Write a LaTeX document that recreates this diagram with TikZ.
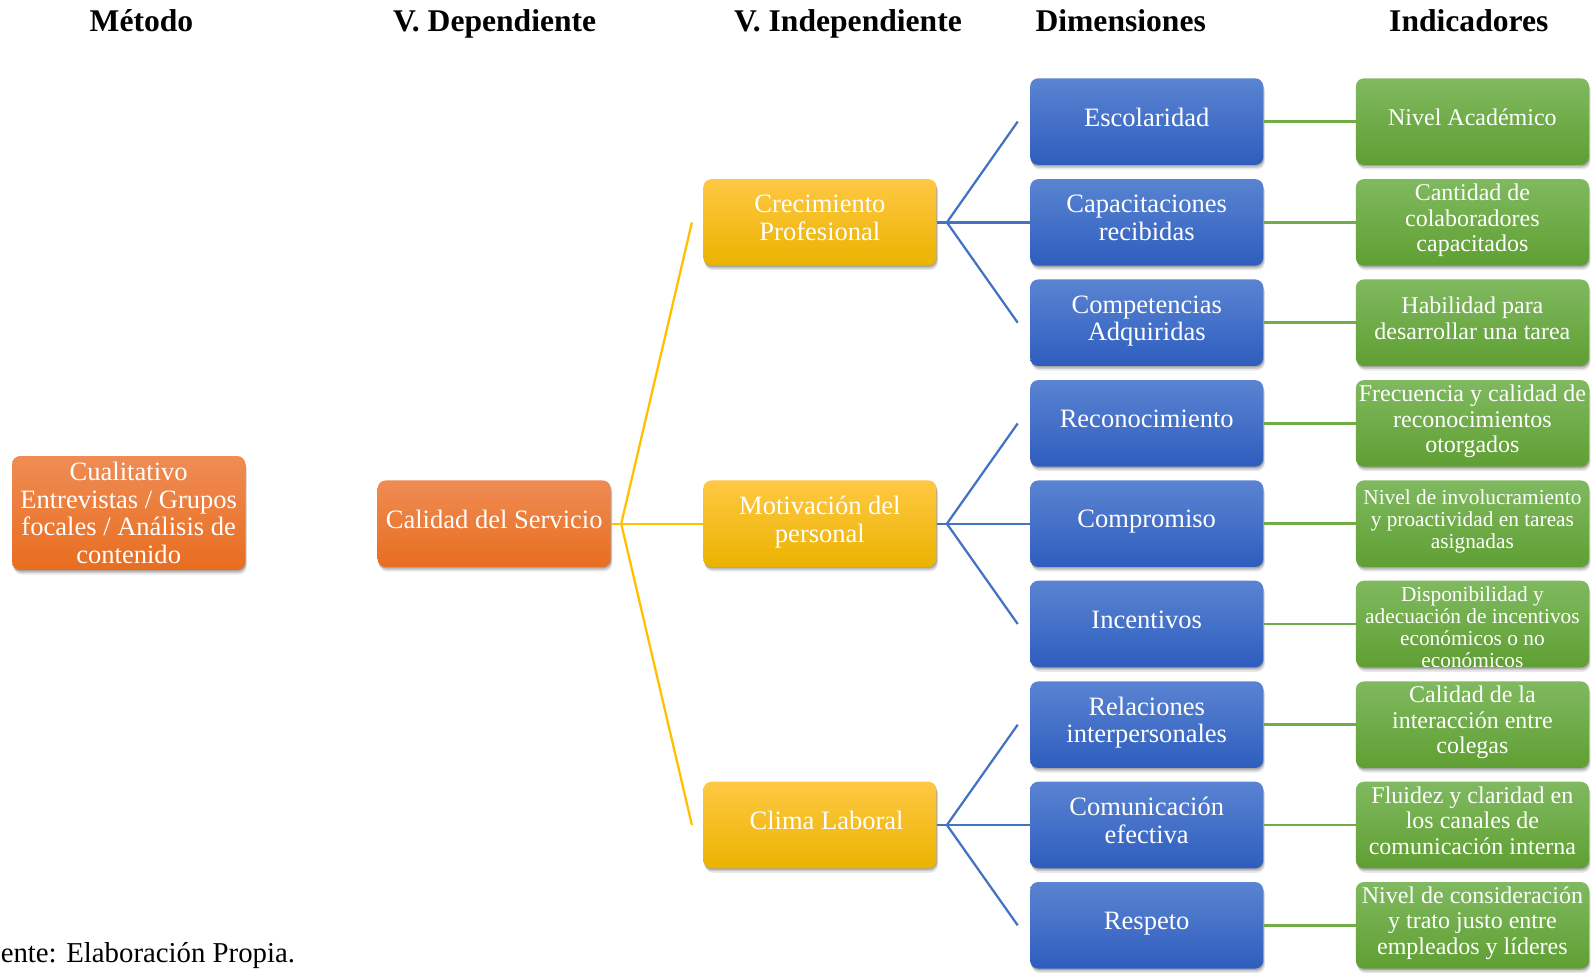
\documentclass[tikz,border=0pt]{standalone}
\usepackage{fontspec}
\setmainfont{Liberation Serif}
\usetikzlibrary{shadows}

% box fills (light top, dark bottom) and connector colours
\definecolor{orTop}{HTML}{EF8C54}
\definecolor{orBot}{HTML}{E86D20}
\definecolor{ylTop}{HTML}{FFC843}
\definecolor{ylBot}{HTML}{EBB300}
\definecolor{blTop}{HTML}{5A84D2}
\definecolor{blBot}{HTML}{2E5DBE}
\definecolor{grTop}{HTML}{80B960}
\definecolor{grBot}{HTML}{5F9F32}
\definecolor{ylLine}{HTML}{FFC000}
\definecolor{blLine}{HTML}{4472C4}
\definecolor{grLine}{HTML}{70AD47}

\newcommand\boxfont{\fontsize{19.9}{20.6}\selectfont}
\newcommand\indfont{\fontsize{18}{19.1}\selectfont}
\newcommand\smallind{\fontsize{16}{16.6}\selectfont}
\newcommand\headfont{\fontsize{23.7}{26}\selectfont\bfseries}
\newcommand\footfont{\fontsize{21.6}{24}\selectfont}

\tikzset{
  box/.style={rounded corners=6pt, minimum width=174.8pt, minimum height=64.9pt,
    inner sep=0pt, align=center, text=white, font=\boxfont,
    drop shadow={shadow xshift=0.4pt, shadow yshift=-1pt, opacity=0.18, fill=black},
    drop shadow={shadow xshift=0.8pt, shadow yshift=-2.2pt, opacity=0.13, fill=black},
    drop shadow={shadow xshift=1.2pt, shadow yshift=-3.4pt, opacity=0.09, fill=black}},
  lift/.style={execute at end node={\rule[-7pt]{0pt}{7pt}}},
  orangebox/.style={box, top color=orTop, bottom color=orBot},
  yellowbox/.style={box, lift, top color=ylTop, bottom color=ylBot},
  bluebox/.style={box, lift, top color=blTop, bottom color=blBot},
  greenbox/.style={box, lift, top color=grTop, bottom color=grBot, font=\indfont},
  head/.style={anchor=base, inner sep=0pt, font=\headfont},
  ylink/.style={draw=ylLine, line width=1.7pt},
  blink/.style={draw=blLine, line width=1.7pt},
  glink/.style={draw=grLine, line width=2pt}
}

\begin{document}
\begin{tikzpicture}[x=0.75pt, y=-0.75pt]
\useasboundingbox (0,0) rectangle (1596,972);
\clip (0,0) rectangle (1596,972);

% column headings
\node[head] (hMet) at (141.5,31) {Método};
\node[head] (hDep) at (494.7,31) {V. Dependiente};
\node[head] (hInd) at (848,31) {V. Independiente};
\node[head] (hDim) at (1120.7,31) {Dimensiones};
\node[head] (hIndic) at (1468.8,31) {Indicadores};

% method and dependent variable
\node[orangebox, minimum height=85.5pt] (met) at (128.7,513)
  {Cualitativo\\Entrevistas / Grupos\\focales / Análisis de\\contenido};
\node[orangebox, lift] (cal) at (494.2,523.7) {Calidad del Servicio};

% independent variables
\node[yellowbox] (cre) at (819.9,222.4) {Crecimiento\\Profesional};
\node[yellowbox] (mot) at (819.9,523.7) {Motivación del\\personal};
\node[yellowbox] (cli) at (819.9,825) {\hspace*{10pt}Clima Laboral};

% dimensions
\node[bluebox] (esc) at (1146.7,121.6) {Escolaridad};
\node[bluebox] (cap) at (1146.7,222.4) {Capacitaciones\\recibidas};
\node[bluebox] (cmp) at (1146.7,322.7) {Competencias\\Adquiridas};
\node[bluebox] (rec) at (1146.7,423.4) {Reconocimiento};
\node[bluebox] (cpr) at (1146.7,523.7) {Compromiso};
\node[bluebox] (inc) at (1146.7,624) {Incentivos};
\node[bluebox] (rel) at (1146.7,724.7) {Relaciones\\interpersonales};
\node[bluebox] (com) at (1146.7,825) {Comunicación\\efectiva};
\node[bluebox] (res) at (1146.7,925.3) {Respeto};

% indicators
\node[greenbox] (gEsc) at (1472.4,121.6) {Nivel Académico};
\node[greenbox] (gCap) at (1472.4,222.4) {Cantidad de\\colaboradores\\capacitados};
\node[greenbox] (gCmp) at (1472.4,322.7) {Habilidad para\\desarrollar una tarea};
\node[greenbox] (gRec) at (1472.4,423.4) {Frecuencia y calidad de\\reconocimientos\\otorgados};
\node[greenbox, font=\smallind] (gCpr) at (1472.4,523.7) {Nivel de involucramiento\\y proactividad en tareas\\asignadas};
\node[greenbox] (gInc) at (1472.4,624) {};
\begin{scope}
  \clip[rounded corners=6pt] (gInc.south west) rectangle (gInc.north east);
  \node[font=\smallind, text=white, align=center, inner sep=0pt] (gIncTxt)
    at ([yshift=-2.5pt]gInc.center)
    {Disponibilidad y\\adecuación de incentivos\\económicos o no\\económicos};
\end{scope}
\node[greenbox] (gRel) at (1472.4,724.7) {Calidad de la\\interacción entre\\colegas};
\node[greenbox] (gCom) at (1472.4,825) {Fluidez y claridad en\\los canales de\\comunicación interna};
\node[greenbox] (gRes) at (1472.4,925.3) {Nivel de consideración\\y trato justo entre\\empleados y líderes};

% fork from the dependent variable
\coordinate (calFork) at ([xshift=7.65pt]cal.east);
\coordinate (creIn) at ([xshift=-8.4pt]cre.west);
\coordinate (cliIn) at ([xshift=-8.4pt]cli.west);
\draw[ylink] (cal.east) -- (mot.west);
\draw[ylink] (creIn) -- (calFork) -- (cliIn);

% forks from the independent variables
\foreach \src/\up/\mid/\dn in {cre/esc/cap/cmp, mot/rec/cpr/inc, cli/rel/com/res}{
  \coordinate (\src Fork) at ([xshift=7.65pt]\src.east);
  \coordinate (\up In) at ([xshift=-9.15pt]\up.west);
  \coordinate (\dn In) at ([xshift=-9.15pt]\dn.west);
  \draw[blink] (\src.east) -- (\mid.west);
  \draw[blink] (\up In) -- (\src Fork) -- (\dn In);
}

% dimension to indicator links
\foreach \d/\g in {esc/gEsc, cap/gCap, cmp/gCmp, rec/gRec, cpr/gCpr, inc/gInc, rel/gRel, com/gCom, res/gRes}{
  \draw[glink] (\d.east) -- (\g.west);
}

% source note
\node[anchor=base west, inner sep=0pt, font=\footfont] (src) at (0.5,962)
  {ente: Elaboración Propia.};
\end{tikzpicture}
\end{document}
